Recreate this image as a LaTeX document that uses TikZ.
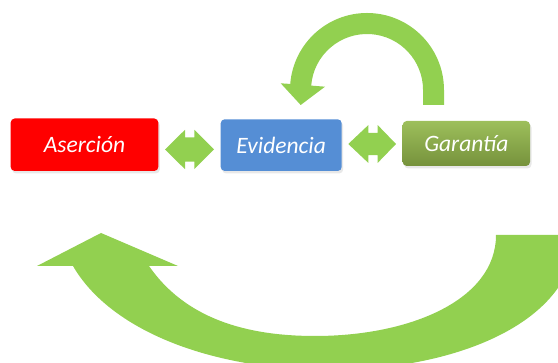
\documentclass[tikz,border=0pt]{standalone}
\usepackage{fontspec}
\setmainfont{Carlito}
\usetikzlibrary{shadows}
\definecolor{arrowgreen}{HTML}{92D050}
\definecolor{boxred}{HTML}{FF0000}
\definecolor{boxblue}{HTML}{558ED5}
\definecolor{gtop}{HTML}{9DBF5B}
\definecolor{gbot}{HTML}{76923C}
\tikzset{
  x=1pt, y=1pt,
  box/.style={rounded corners=4pt, inner sep=0pt, text=white,
    font=\itshape\fontsize{23.5}{28}\selectfont,
    drop shadow={opacity=0.18, shadow xshift=1.5pt, shadow yshift=-2.5pt}},
  shape arrow/.style={fill=arrowgreen, draw=none}
}
\begin{document}
\begin{tikzpicture}
\useasboundingbox (0,0) rectangle (558,363);
\clip (0,0) rectangle (558,363);
% boxes
\node[box, fill=boxred, minimum width=147.6pt, minimum height=52.5pt] (ase) at (84.5,218.25) {Aserción};
\node[box, fill=boxblue, minimum width=121pt, minimum height=51.7pt] (evi) at (281.2,217.85) {Evidencia};
\node[box, top color=gtop, bottom color=gbot, minimum width=127.3pt, minimum height=45pt] (gar) at (466.35,219.5) {Garantía};
% double arrows
\path[shape arrow] (165,213.5) -- (185,233.2) -- (185,225.7) -- (194.3,225.7) -- (194.3,233.2) -- (214,213.5)
  -- (194.3,193.8) -- (194.3,201.3) -- (185,201.3) -- (185,193.8) -- cycle;
\path[shape arrow] (348.3,219) -- (368.3,237.9) -- (368.3,230.2) -- (377.7,230.2) -- (377.7,237.9) -- (396,219)
  -- (377.7,200.1) -- (377.7,207.9) -- (368.3,207.9) -- (368.3,200.1) -- cycle;
% top curved arrow (Garantía -> Evidencia)
\path[shape arrow] (444,258) -- (444,273) arc[start angle=0, end angle=175.5, radius=77]
  -- (280.7,279.7) -- (300.7,258) -- (325,276.3) -- (311.2,277.4)
  arc[start angle=175.5, end angle=0, radius=56] -- (423,258) -- cycle;
% bottom curved arrow
\path[shape arrow] (73,97) .. controls (110,33) and (210,-7) .. (330,-7)
  .. controls (460,-7) and (575,43) .. (575,128) -- (496,128)
  .. controls (496,63) and (410,27) .. (315,27)
  .. controls (245,27) and (185,45) .. (149,97) -- (178,97) -- (101,130) -- (37,97) -- cycle;
\end{tikzpicture}
\end{document}
